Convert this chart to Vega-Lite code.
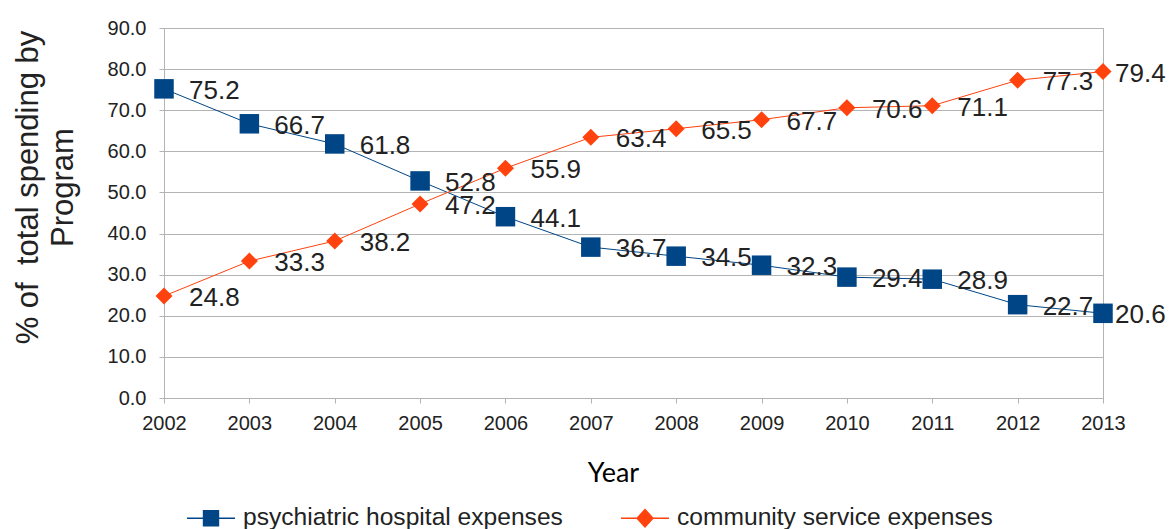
{
  "$schema": "https://vega.github.io/schema/vega-lite/v6.json",
  "autosize": "none",
  "width": 939,
  "height": 370,
  "padding": {"left": 164, "top": 28, "right": 70, "bottom": 131},
  "background": "white",
  "config": {
    "view": {"stroke": "#b3b3b3", "strokeWidth": 1},
    "font": "Liberation Sans"
  },
  "data": {
    "values": [
      {"year": "2002", "series": "psychiatric hospital expenses", "value": 75.2},
      {"year": "2003", "series": "psychiatric hospital expenses", "value": 66.7},
      {"year": "2004", "series": "psychiatric hospital expenses", "value": 61.8},
      {"year": "2005", "series": "psychiatric hospital expenses", "value": 52.8},
      {"year": "2006", "series": "psychiatric hospital expenses", "value": 44.1},
      {"year": "2007", "series": "psychiatric hospital expenses", "value": 36.7},
      {"year": "2008", "series": "psychiatric hospital expenses", "value": 34.5},
      {"year": "2009", "series": "psychiatric hospital expenses", "value": 32.3},
      {"year": "2010", "series": "psychiatric hospital expenses", "value": 29.4},
      {"year": "2011", "series": "psychiatric hospital expenses", "value": 28.9},
      {"year": "2012", "series": "psychiatric hospital expenses", "value": 22.7},
      {"year": "2013", "series": "psychiatric hospital expenses", "value": 20.6},
      {"year": "2002", "series": "community service expenses", "value": 24.8},
      {"year": "2003", "series": "community service expenses", "value": 33.3},
      {"year": "2004", "series": "community service expenses", "value": 38.2},
      {"year": "2005", "series": "community service expenses", "value": 47.2},
      {"year": "2006", "series": "community service expenses", "value": 55.9},
      {"year": "2007", "series": "community service expenses", "value": 63.4},
      {"year": "2008", "series": "community service expenses", "value": 65.5},
      {"year": "2009", "series": "community service expenses", "value": 67.7},
      {"year": "2010", "series": "community service expenses", "value": 70.6},
      {"year": "2011", "series": "community service expenses", "value": 71.1},
      {"year": "2012", "series": "community service expenses", "value": 77.3},
      {"year": "2013", "series": "community service expenses", "value": 79.4}
    ]
  },
  "encoding": {
    "x": {
      "field": "year",
      "type": "ordinal",
      "scale": {"type": "point", "padding": 0},
      "axis": {
        "title": "Year",
        "titleFont": "Lato",
        "titleFontSize": 27,
        "titleFontWeight": "normal",
        "titleColor": "#000000",
        "titleX": 449,
        "titleY": 62,
        "titleBaseline": "top",
        "labelAngle": 0,
        "labelFontSize": 20,
        "labelColor": "#222222",
        "labelPadding": 10,
        "tickSize": 5,
        "tickColor": "#b3b3b3",
        "domainColor": "#b3b3b3",
        "grid": false
      }
    },
    "y": {
      "field": "value",
      "type": "quantitative",
      "scale": {"domain": [0, 90], "nice": false},
      "axis": {
        "title": ["% of \u00a0total spending by", "Program"],
        "titleFontSize": 31,
        "titleFontWeight": "normal",
        "titleColor": "#222222",
        "titleLineHeight": 35,
        "titleAlign": "center",
        "titleBaseline": "middle",
        "titleAngle": -90,
        "titleX": -136,
        "titleY": 159,
        "values": [0, 10, 20, 30, 40, 50, 60, 70, 80, 90],
        "format": ".1f",
        "labelFontSize": 20,
        "labelColor": "#222222",
        "labelPadding": 13,
        "tickSize": 5,
        "tickColor": "#b3b3b3",
        "domainColor": "#b3b3b3",
        "gridColor": "#b3b3b3",
        "grid": true
      }
    },
    "color": {
      "field": "series",
      "type": "nominal",
      "scale": {
        "domain": ["psychiatric hospital expenses", "community service expenses"],
        "range": ["#004586", "#ff420e"]
      },
      "legend": {
        "title": null,
        "orient": "none",
        "legendX": 22,
        "legendY": 465,
        "direction": "horizontal",
        "padding": 0,
        "symbolSize": 2304,
        "symbolStrokeWidth": 1.5,
        "labelFontSize": 24.6,
        "labelLimit": 0,
        "labelColor": "#222222",
        "labelOffset": 7,
        "columnPadding": 55,
        "encode": {
          "symbols": {
            "update": {
              "shape": {"signal": "datum.value === 'psychiatric hospital expenses' ? 'M-1,0H1M-0.31,-0.31H0.31V0.31H-0.31Z' : 'M-1,0H1M0,-0.36L0.33,0L0,0.36L-0.33,0Z'"},
              "fill": {"scale": "color", "field": "value"},
              "stroke": {"scale": "color", "field": "value"},
              "strokeWidth": {"value": 1.5},
              "opacity": {"value": 1}
            }
          }
        }
      }
    }
  },
  "layer": [
    {
      "mark": {"type": "line", "strokeWidth": 1}
    },
    {
      "transform": [{"filter": "datum.series === 'psychiatric hospital expenses'"}],
      "mark": {"type": "point", "shape": "square", "size": 380, "filled": true, "opacity": 1}
    },
    {
      "transform": [{"filter": "datum.series === 'community service expenses'"}],
      "mark": {"type": "point", "shape": "diamond", "size": 290, "filled": true, "opacity": 1}
    },
    {
      "transform": [{"filter": "datum.year !== '2013'"}],
      "mark": {"type": "text", "align": "left", "baseline": "middle", "dx": 25, "dy": 2, "fontSize": 26},
      "encoding": {
        "text": {"field": "value", "type": "quantitative", "format": ".1f"},
        "color": {"value": "#222222"}
      }
    },
    {
      "transform": [{"filter": "datum.year === '2013'"}],
      "mark": {"type": "text", "align": "left", "baseline": "middle", "dx": 12, "dy": 2, "fontSize": 26},
      "encoding": {
        "text": {"field": "value", "type": "quantitative", "format": ".1f"},
        "color": {"value": "#222222"}
      }
    }
  ]
}
